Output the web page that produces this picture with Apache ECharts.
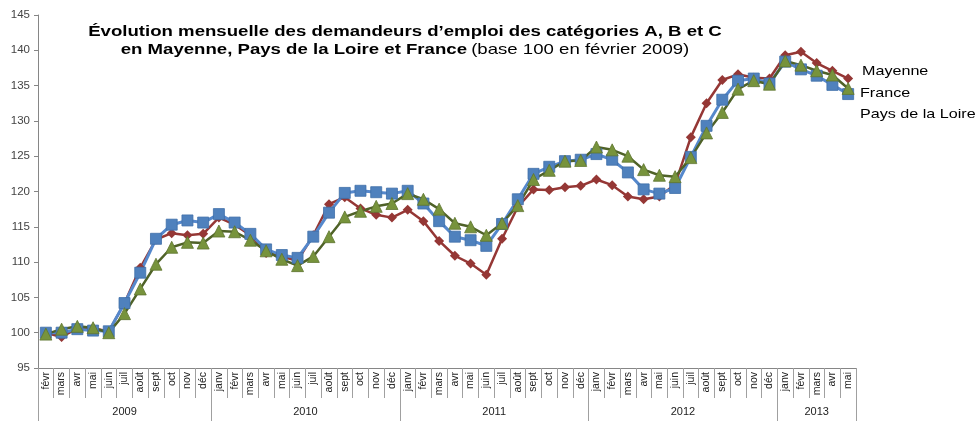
<!DOCTYPE html>
<html><head><meta charset="utf-8">
<script src="https://cdn.jsdelivr.net/npm/echarts@6/dist/echarts.min.js"></script>
<style>html,body{margin:0;padding:0;background:#fff}#c{width:977px;height:421px}</style>
</head><body><div id="c"></div>
<script>
const months = ['févr','mars','avr','mai','juin','juil','août','sept','oct','nov','déc',
 'janv','févr','mars','avr','mai','juin','juil','août','sept','oct','nov','déc',
 'janv','févr','mars','avr','mai','juin','juil','août','sept','oct','nov','déc',
 'janv','févr','mars','avr','mai','juin','juil','août','sept','oct','nov','déc',
 'janv','févr','mars','avr','mai'];
const years = ['2009','2010','2011','2012','2013'];
const yearStart = [0, 11, 23, 35, 47];
const yearLabelIdx = {5:'2009', 16:'2010', 28:'2011', 40:'2012', 49:'2013'};
const yearShifted = {16:true, 28:true, 40:true};

const mayenne = [100,99.4,100.6,100.6,100.2,104.2,109.2,113.2,114.1,113.8,114,
 116.3,115.3,113.8,111.3,110.8,110.2,113.8,118.2,119.2,117.6,116.7,116.3,
 117.4,115.8,113,110.9,109.8,108.2,113.3,117.8,120.3,120.2,120.6,120.8,
 121.7,120.9,119.3,118.9,119.3,121,127.7,132.5,135.8,136.6,136.1,136,
 139.3,139.8,138.2,137.1,136];
const france = [100,100,100.5,100.3,100.2,104.2,108.5,113.3,115.3,115.9,115.6,
 116.8,115.6,114,111.8,111,110.6,113.6,117,119.8,120.1,119.9,119.7,
 120.1,118.3,115.8,113.6,113.1,112.3,115.4,118.9,122.5,123.5,124.3,124.5,
 125.3,124.5,122.7,120.3,119.7,120.5,124.9,129.3,133,135.7,136,135.3,
 138.4,137.3,136.4,135.1,133.8];
const paysLoire = [99.8,100.5,100.9,100.7,100,102.7,106.2,109.7,112.1,112.8,112.7,
 114.4,114.3,113.1,111.6,110.4,109.5,110.8,113.6,116.4,117.2,117.9,118.3,
 119.7,118.9,117.5,115.5,115,113.8,115.5,118,121.7,123,124.3,124.4,
 126.3,125.9,125,123.1,122.3,122.1,124.8,128.3,131.2,134.5,135.7,135.2,
 138.5,137.9,137.1,136.5,134.6];
const seriesNames = ['Mayenne','France','Pays de la Loire'];
const titleLine1 = 'Évolution mensuelle des demandeurs d\u2019emploi des catégories A, B et C';
const titleLine2a = 'en Mayenne, Pays de la Loire et France';
const titleLine2b = '(base 100 en février 2009)';

const FONT = 'Liberation Sans, Arial, sans-serif';
const SX = 1.24;
const chart = echarts.init(document.getElementById('c'), null, {renderer:'canvas'});
chart.setOption({
  animation:false,
  backgroundColor:'#fff',
  grid:{left:38, right:121, top:15, bottom:53, containLabel:false},
  xAxis:[{
    type:'category', data:months, boundaryGap:true,
    axisLine:{show:true, lineStyle:{color:'#868686'}},
    axisTick:{show:true, interval:0, length:30, lineStyle:{color:'#a0a0a0'}},
    axisLabel:{show:true, interval:0, rotate:90, fontFamily:FONT, fontSize:10.5, color:'#222', margin:4}
  },{
    type:'category', data:months, boundaryGap:true, position:'bottom', offset:30,
    axisLine:{show:false},
    axisTick:{show:true, length:24, interval:function(i){return yearStart.indexOf(i)>=0;}, lineStyle:{color:'#a0a0a0'}},
    axisLabel:{show:true, interval:0, margin:8, fontFamily:FONT, fontSize:11, color:'#222',
      formatter:function(v,i){
        if(yearLabelIdx[i]===undefined) return '';
        return yearShifted[i] ? '{s|'+yearLabelIdx[i]+'}' : '{n|'+yearLabelIdx[i]+'}';
      },
      rich:{s:{padding:[0,0,0,15.7], fontFamily:FONT, fontSize:11, color:'#222'}, n:{fontFamily:FONT, fontSize:11, color:'#222'}}
    }
  }],
  yAxis:{
    type:'value', min:95, max:145, interval:5,
    axisLine:{show:true, lineStyle:{color:'#868686'}},
    axisTick:{show:true, length:4, lineStyle:{color:'#868686'}},
    splitLine:{show:false},
    axisLabel:{fontFamily:FONT, fontSize:11.5, color:'#444', margin:8}
  },
  series:[
    {name:seriesNames[0], type:'line', data:mayenne, xAxisIndex:0,
     symbol:'diamond', symbolSize:10, lineStyle:{color:'#953735', width:2.5},
     itemStyle:{color:'#953735'}},
    {name:seriesNames[1], type:'line', data:france, xAxisIndex:0,
     symbol:'rect', symbolSize:11, lineStyle:{color:'#5588CC', width:3},
     itemStyle:{color:'#4F81BD', borderColor:'#3F6FA8', borderWidth:0.8}},
    {name:seriesNames[2], type:'line', data:paysLoire, xAxisIndex:0,
     symbol:'triangle', symbolSize:12, lineStyle:{color:'#4F6228', width:2.5},
     itemStyle:{color:'#77933C', borderColor:'#5E7530', borderWidth:0.8}}
  ],
  graphic:[
    {type:'text', x:405, y:23, scaleX:SX, style:{
      text:'{b|'+titleLine1+'}\n{b|'+titleLine2a+'} {n|'+titleLine2b+'}',
      align:'center', verticalAlign:'top',
      rich:{
        b:{fontFamily:FONT, fontWeight:'bold', fontSize:15, fill:'#000', lineHeight:18},
        n:{fontFamily:FONT, fontWeight:'normal', fontSize:15, fill:'#000', lineHeight:18}
      }}},
    {type:'text', x:862, y:71, scaleX:SX, style:{text:seriesNames[0], font:'13px '+FONT, fill:'#000', verticalAlign:'middle'}},
    {type:'text', x:860, y:93, scaleX:SX, style:{text:seriesNames[1], font:'13px '+FONT, fill:'#000', verticalAlign:'middle'}},
    {type:'text', x:860, y:114, scaleX:SX, style:{text:seriesNames[2], font:'13px '+FONT, fill:'#000', verticalAlign:'middle'}}
  ]
});
</script></body></html>
